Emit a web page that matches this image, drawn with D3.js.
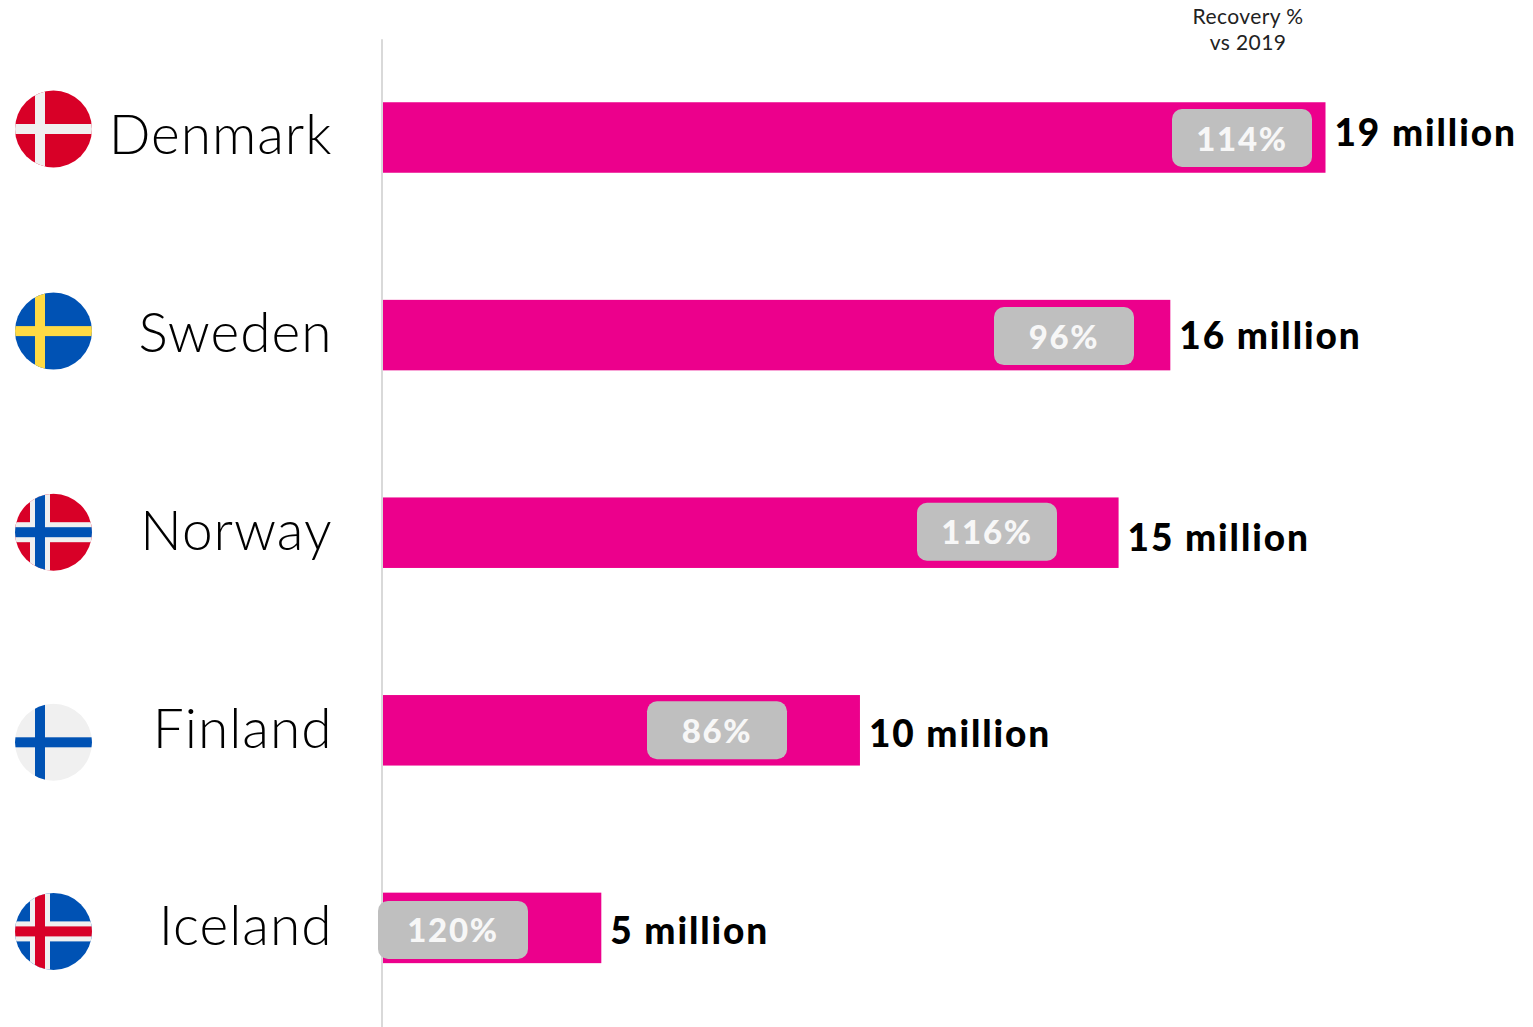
<!DOCTYPE html>
<html>
<head>
<meta charset="utf-8">
<script src="https://cdn.jsdelivr.net/npm/d3@7"></script>
<style>
  html, body { margin: 0; padding: 0; background: #fff; }
  svg { display: block; font-family: Lato, sans-serif; }
</style>
</head>
<body>
<svg id="chart" width="1533" height="1027"></svg>
<script>
// Chart data
const countries = ["Denmark", "Sweden", "Norway", "Finland", "Iceland"];
const passengersMillions = [19, 16, 15, 10, 5];
const recoveryPercent = [114, 96, 116, 86, 120];
const recoveryHeading = ["Recovery %", "vs 2019"];
const flagKeys = ["dk", "se", "no", "fi", "is"];

// Per-row nudges and the recovery pill placement
const rowLayout = {
  flagDy: [-8.5, -4, -0.5, 12, 3.5],
  pillCx: [1242, 1064, 987, 717, 453],
  pillW: [140, 140, 140, 140, 150],
  pillDy: [0.5, 1, -1, 0, 2],
  valueDy: [8.5, 13.5, 18, 16.5, 16],
  nameDy: [16.5, 17, 17, 17.5, 17.5]
};

const RED = "#d80027", BLUE = "#0052b4", YELLOW = "#ffda44", WHITE = "#f0f0f0", PINK = "#ec008c";

// Nordic cross specs: background, outer cross, optional inner cross
const flagSpecs = {
  dk: { bg: RED, cross: WHITE, w: 10 },
  se: { bg: BLUE, cross: YELLOW, w: 10 },
  fi: { bg: WHITE, cross: BLUE, w: 10 },
  no: { bg: RED, cross: WHITE, w: 20, inner: BLUE },
  is: { bg: BLUE, cross: WHITE, w: 20, inner: RED }
};

const svg = d3.select("#chart");

// The value axis starts a little above zero so the short bars stay in proportion to the long ones
const x = d3.scaleLinear().domain([0.77, 19]).range([382.5, 1325.5]);
const y = d3.scaleBand()
  .domain(countries)
  .range([38.7, 1026.7])
  .paddingInner(0.6432)
  .paddingOuter(0.3216);
const rowMid = c => y(c) + y.bandwidth() / 2;

// Bars
svg.append("g").selectAll("rect")
  .data(countries)
  .join("rect")
  .attr("x", x.range()[0])
  .attr("y", c => y(c))
  .attr("width", (c, i) => x(passengersMillions[i]) - x.range()[0])
  .attr("height", y.bandwidth())
  .attr("fill", PINK);

// Category axis: vertical rule and country names
const axis = svg.append("g")
  .attr("transform", "translate(381.5,0)")
  .call(d3.axisLeft(y).tickSize(0).tickPadding(49));
axis.select(".domain").attr("stroke", "#d9d9d9").attr("stroke-width", 2);
axis.selectAll(".tick text")
  .attr("dy", null)
  .attr("y", (c, i) => rowLayout.nameDy[i])
  .attr("font-family", "Lato, sans-serif")
  .attr("font-weight", 300)
  .attr("font-size", 55)
  .attr("letter-spacing", 1)
  .attr("fill", "#000");

// Value labels at the bar ends
svg.append("g").selectAll("text")
  .data(countries)
  .join("text")
  .attr("x", (c, i) => x(passengersMillions[i]) + 9)
  .attr("y", (c, i) => rowMid(c) + rowLayout.valueDy[i])
  .attr("font-weight", 900)
  .attr("font-size", 37)
  .attr("letter-spacing", 1.9)
  .attr("fill", "#000")
  .text((c, i) => `${passengersMillions[i]} million`);

// Recovery pills
const pills = svg.append("g").selectAll("g")
  .data(countries)
  .join("g")
  .attr("transform", (c, i) => `translate(${rowLayout.pillCx[i]},${rowMid(c) + rowLayout.pillDy[i]})`);
pills.append("rect")
  .attr("x", (c, i) => -rowLayout.pillW[i] / 2)
  .attr("y", -29)
  .attr("width", (c, i) => rowLayout.pillW[i])
  .attr("height", 58)
  .attr("rx", 10)
  .attr("fill", "#bfbfbf");
pills.append("text")
  .attr("text-anchor", "middle")
  .attr("y", 12.5)
  .attr("font-weight", 900)
  .attr("font-size", 33)
  .attr("letter-spacing", 1.7)
  .attr("fill", "#f7f7f7")
  .text((c, i) => `${recoveryPercent[i]}%`);

// Column heading above the pills
svg.append("g").selectAll("text")
  .data(recoveryHeading)
  .join("text")
  .attr("x", 1248)
  .attr("y", (d, i) => 24 + i * 26)
  .attr("text-anchor", "middle")
  .attr("font-weight", 400)
  .attr("font-size", 21)
  .attr("letter-spacing", 0.4)
  .attr("fill", "#222")
  .text(d => d);

// Round flags
const defs = svg.append("defs");
defs.append("clipPath").attr("id", "flag-clip")
  .append("circle").attr("r", 38.5);

const flags = svg.append("g").selectAll("g")
  .data(countries)
  .join("g")
  .attr("transform", (c, i) => `translate(53.5,${rowMid(c) + rowLayout.flagDy[i]})`)
  .append("g")
  .attr("clip-path", "url(#flag-clip)");

flags.each(function (c, i) {
  const f = flagSpecs[flagKeys[i]];
  const g = d3.select(this);
  const crossCx = -13.5;
  g.append("rect").attr("x", -39).attr("y", -39).attr("width", 78).attr("height", 78).attr("fill", f.bg);
  const bands = [{ w: f.w, fill: f.cross }];
  if (f.inner) bands.push({ w: 10, fill: f.inner });
  bands.forEach(b => {
    g.append("rect").attr("x", crossCx - b.w / 2).attr("y", -39).attr("width", b.w).attr("height", 78).attr("fill", b.fill);
    g.append("rect").attr("x", -39).attr("y", -b.w / 2).attr("width", 78).attr("height", b.w).attr("fill", b.fill);
  });
});
</script>
</body>
</html>
